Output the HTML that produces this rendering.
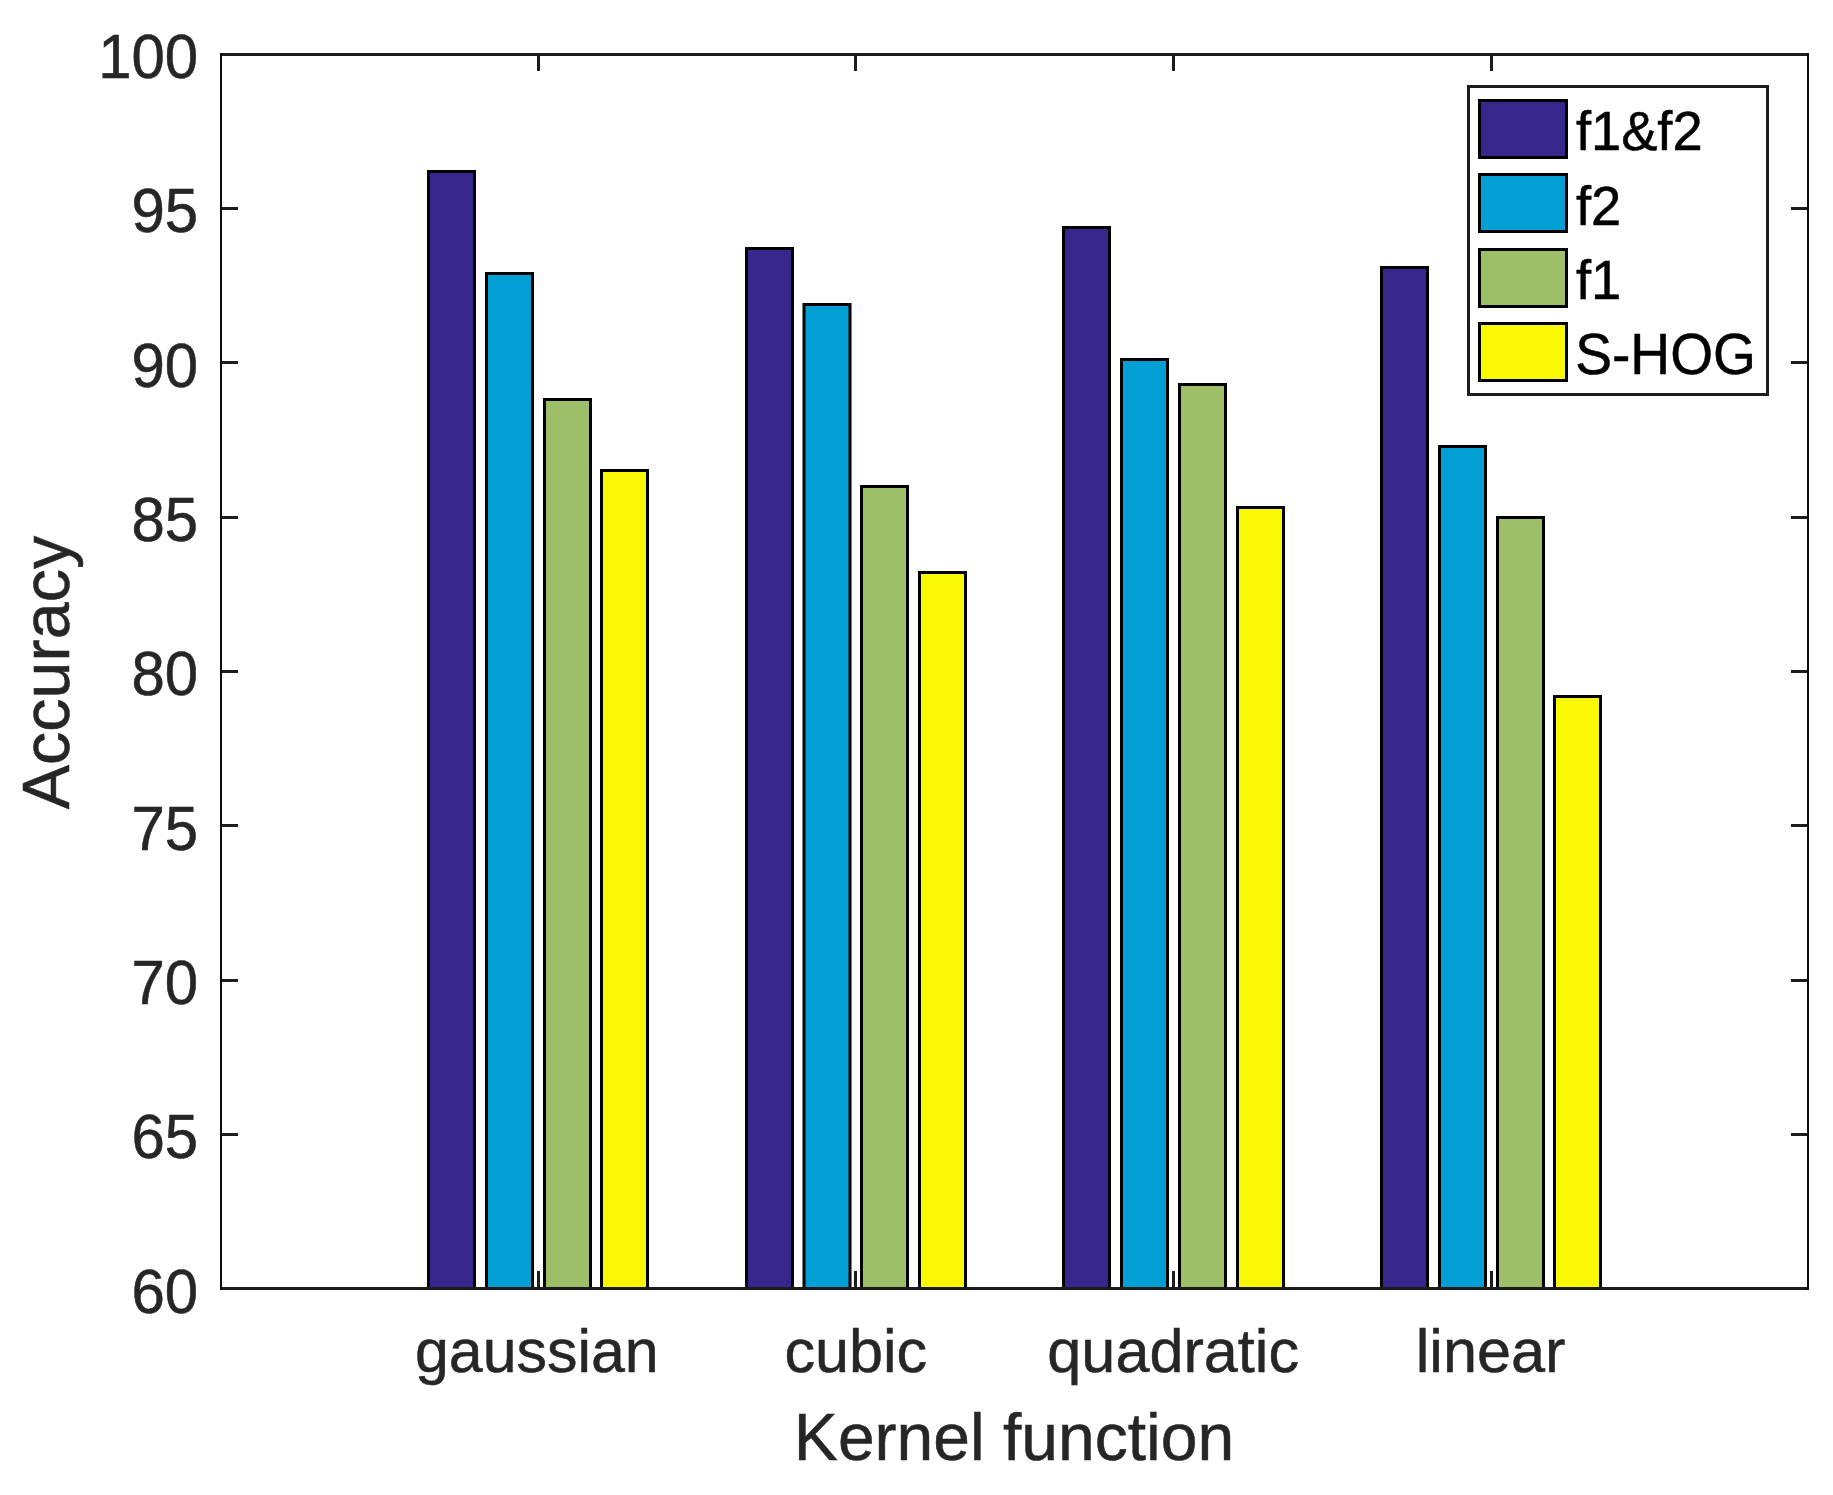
<!DOCTYPE html>
<html lang="en"><head><meta charset="utf-8"><title>Accuracy by kernel function</title>
<style>html,body{margin:0;padding:0;background:#fff}body{width:1833px;height:1495px;overflow:hidden}svg{display:block}text{font-family:"Liberation Sans",Arial,Helvetica,sans-serif}</style></head><body>
<svg width="1833" height="1495" viewBox="0 0 1833 1495">
<rect width="1833" height="1495" fill="#fff"/>
<g fill="#1c1c1c">
<rect x="221" y="1133" width="17" height="3"/><rect x="1791" y="1133" width="17" height="3"/>
<rect x="221" y="979" width="17" height="3"/><rect x="1791" y="979" width="17" height="3"/>
<rect x="221" y="824" width="17" height="3"/><rect x="1791" y="824" width="17" height="3"/>
<rect x="221" y="670" width="17" height="3"/><rect x="1791" y="670" width="17" height="3"/>
<rect x="221" y="516" width="17" height="3"/><rect x="1791" y="516" width="17" height="3"/>
<rect x="221" y="361" width="17" height="3"/><rect x="1791" y="361" width="17" height="3"/>
<rect x="221" y="207" width="17" height="3"/><rect x="1791" y="207" width="17" height="3"/>
<rect x="537" y="1271" width="3" height="17"/><rect x="537" y="54" width="3" height="17"/>
<rect x="854" y="1271" width="3" height="17"/><rect x="854" y="54" width="3" height="17"/>
<rect x="1172" y="1271" width="3" height="17"/><rect x="1172" y="54" width="3" height="17"/>
<rect x="1490" y="1271" width="3" height="17"/><rect x="1490" y="54" width="3" height="17"/>
</g>
<g stroke="#000" stroke-width="3">
<rect x="428.5" y="171.5" width="46" height="1117.0" fill="#37268B"/>
<rect x="486.5" y="273.5" width="46" height="1015.0" fill="#019FD4"/>
<rect x="544.5" y="399.5" width="46" height="889.0" fill="#9CBF67"/>
<rect x="601.5" y="470.5" width="46" height="818.0" fill="#F9F906"/>
<rect x="746.5" y="248.5" width="46" height="1040.0" fill="#37268B"/>
<rect x="804.0" y="304.5" width="46" height="984.0" fill="#019FD4"/>
<rect x="861.5" y="486.5" width="46" height="802.0" fill="#9CBF67"/>
<rect x="919.5" y="572.5" width="46" height="716.0" fill="#F9F906"/>
<rect x="1063.5" y="227.5" width="46" height="1061.0" fill="#37268B"/>
<rect x="1121.5" y="359.5" width="46" height="929.0" fill="#019FD4"/>
<rect x="1179.5" y="384.5" width="46" height="904.0" fill="#9CBF67"/>
<rect x="1237.5" y="507.5" width="46" height="781.0" fill="#F9F906"/>
<rect x="1381.5" y="267.5" width="46" height="1021.0" fill="#37268B"/>
<rect x="1439.5" y="446.5" width="46" height="842.0" fill="#019FD4"/>
<rect x="1497.5" y="517.5" width="46" height="771.0" fill="#9CBF67"/>
<rect x="1554.5" y="696.5" width="46" height="592.0" fill="#F9F906"/>
</g>
<g fill="#1c1c1c">
<rect x="220" y="53" width="1589" height="3"/>
<rect x="220" y="1287" width="1589" height="3"/>
<rect x="220" y="53" width="2" height="1237" fill="#0c0c0c"/>
<rect x="1807" y="53" width="2" height="1237" fill="#0c0c0c"/>
</g>
<g fill="#262626" stroke="#262626" stroke-width="0.5" font-size="61.2" text-anchor="end">
<text transform="translate(198.2 1312.53) scale(0.98 1.02)">60</text>
<text transform="translate(198.2 1158.19) scale(0.98 1.02)">65</text>
<text transform="translate(198.2 1003.86) scale(0.98 1.02)">70</text>
<text transform="translate(198.2 849.52) scale(0.98 1.02)">75</text>
<text transform="translate(198.2 695.19) scale(0.98 1.02)">80</text>
<text transform="translate(198.2 540.85) scale(0.98 1.02)">85</text>
<text transform="translate(198.2 386.52) scale(0.98 1.02)">90</text>
<text transform="translate(198.2 232.18) scale(0.98 1.02)">95</text>
<text transform="translate(198.2 77.85) scale(0.98 1.02)">100</text>
</g>
<g fill="#262626" stroke="#262626" stroke-width="0.5" font-size="61.2" text-anchor="middle">
<text x="536.8" y="1371.5" font-size="60.9">gaussian</text>
<text x="855.8" y="1371.5" font-size="61.2">cubic</text>
<text x="1173.2" y="1371.5" font-size="61.2">quadratic</text>
<text x="1490.6" y="1371.5" font-size="61.2">linear</text>
</g>
<text x="1014" y="1459.6" fill="#262626" stroke="#262626" stroke-width="0.5" font-size="66.0" text-anchor="middle">Kernel function</text>
<text transform="translate(68.6 672.5) rotate(-90)" fill="#262626" stroke="#262626" stroke-width="0.5" font-size="66.5" text-anchor="middle">Accuracy</text>
<rect x="1468.5" y="86.5" width="299" height="308" fill="#fff" stroke="#1c1c1c" stroke-width="3"/>
<rect x="1479.5" y="100.5" width="87" height="57" fill="#37268B" stroke="#000" stroke-width="3"/>
<text transform="translate(1575.9 150.4) scale(0.978 1.000)" fill="#000" stroke="#000" stroke-width="0.5" font-size="55.5">f1&amp;f2</text>
<rect x="1479.5" y="174.5" width="87" height="57" fill="#019FD4" stroke="#000" stroke-width="3"/>
<text transform="translate(1575.9 225.0) scale(0.978 1.000)" fill="#000" stroke="#000" stroke-width="0.5" font-size="55.5">f2</text>
<rect x="1479.5" y="249.5" width="87" height="57" fill="#9CBF67" stroke="#000" stroke-width="3"/>
<text transform="translate(1575.9 299.0) scale(0.978 1.000)" fill="#000" stroke="#000" stroke-width="0.5" font-size="55.5">f1</text>
<rect x="1479.5" y="323.5" width="87" height="57" fill="#F9F906" stroke="#000" stroke-width="3"/>
<text transform="translate(1575.2 374.1) scale(0.994 1.035)" fill="#000" stroke="#000" stroke-width="0.5" font-size="55.5">S-HOG</text>
</svg></body></html>
